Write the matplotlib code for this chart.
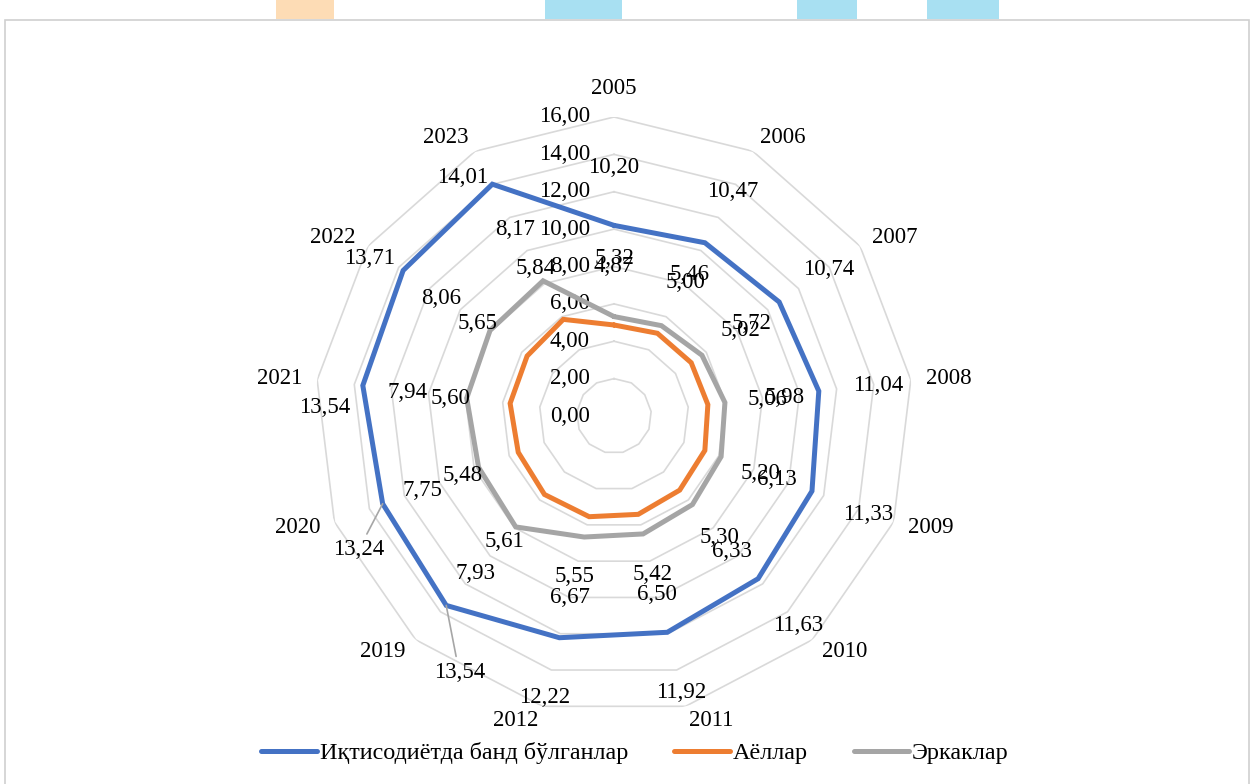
import numpy as np
import matplotlib
matplotlib.use("Agg")
import matplotlib.pyplot as plt
from matplotlib.patches import Rectangle

plt.rcParams["font.family"] = ["Liberation Serif", "DejaVu Serif"]

# data
years = ["2005", "2006", "2007", "2008", "2009", "2010", "2011", "2012",
         "2019", "2020", "2021", "2022", "2023"]
employed = [10.20, 10.47, 10.74, 11.04, 11.33, 11.63, 11.92, 12.22,
            13.54, 13.24, 13.54, 13.71, 14.01]
women = [4.87, 5.00, 5.02, 5.06, 5.20, 5.30, 5.42, 5.55,
         5.61, 5.48, 5.60, 5.65, 5.84]
men = [5.32, 5.46, 5.72, 5.98, 6.13, 6.33, 6.50, 6.67,
       7.93, 7.75, 7.94, 8.06, 8.17]
rings = [2, 4, 6, 8, 10, 12, 14, 16]
names = ["Иқтисодиётда банд бўлганлар", "Аёллар", "Эркаклар"]
colors = ["#4472C4", "#ED7D31", "#A5A5A5"]

# blue labels that were moved by hand in the original (pixels, y up)
moved = {8: (13, -67), 9: (-24, -46), 10: (-38, -22), 11: (-34, 12), 12: (-30, 7)}
leader = [8, 9]

W, H = 1253, 784
fig = plt.figure(figsize=(W / 100, H / 100), dpi=100)

# page border and bits of the page background above it
fig.add_artist(Rectangle((5 / W, -0.01), 1244 / W, (H - 20) / H + 0.01,
                         transform=fig.transFigure, fill=False,
                         edgecolor="#d0d0d0", lw=1.2))
for x0, x1, c in [(276, 334, "#FDDCB5"), (545, 622, "#A8E0F2"),
                  (797, 857, "#A8E0F2"), (927, 999, "#A8E0F2")]:
    fig.add_artist(Rectangle((x0 / W, (H - 19) / H), (x1 - x0) / W, 19 / H,
                             transform=fig.transFigure, color=c, lw=0))

cx, cy, R = 614, 416, 299
ax = fig.add_axes([(cx - R) / W, (H - cy - R) / H, 2 * R / W, 2 * R / H],
                  projection="polar")
ax.set_theta_zero_location("N")
ax.set_theta_direction(-1)
ax.set_ylim(0, 16)
ax.grid(False)
ax.spines["polar"].set_visible(False)
ax.set_xticks([])
ax.set_yticks([])
ax.patch.set_alpha(0)

n = len(years)
theta = np.arange(n) * 2 * np.pi / n
tc = np.append(theta, theta[0])

fs = 16.5

for r in rings:
    ax.plot(tc, [r] * (n + 1), color="#d9d9d9", lw=1.2, zorder=1)
for r in [0] + rings:
    ax.annotate(f"{r:.2f}".replace(".", ","), (0, r), xytext=(-24, 0),
                textcoords="offset pixels", ha="right", va="center", fontsize=fs)

for k, (t, y) in enumerate(zip(theta, years)):
    s, c = np.sin(t), np.cos(t)
    if abs(s) < 0.1:
        ha, va, d = "center", "bottom", 18
    else:
        ha, va, d = ("left" if s > 0 else "right"), "center", 15
    ax.annotate(y, (t, 16), xytext=(s * d, c * d), textcoords="offset pixels",
                ha=ha, va=va, fontsize=fs)

series = [employed, women, men]
for vals, col, name in zip(series, colors, names):
    v = np.append(vals, vals[0])
    ax.plot(tc, v, color=col, lw=3.6, label=name, zorder=3,
            solid_joinstyle="miter", solid_capstyle="round")

for si, (vals, col) in enumerate(zip(series, colors)):
    for k, (t, v) in enumerate(zip(theta, vals)):
        off = (np.sin(t) * 60, np.cos(t) * 60 - 2)
        kw = {}
        if si == 0 and k in moved:
            off = moved[k]
            if k in leader:
                kw["arrowprops"] = dict(arrowstyle="-", color="#a6a6a6", lw=1.2,
                                        shrinkA=2, shrinkB=0)
        ax.annotate(f"{v:.2f}".replace(".", ","), (t, v), xytext=off,
                    textcoords="offset pixels", ha="center", va="center",
                    fontsize=fs, zorder=4, **kw)

fig.legend(loc="center", bbox_to_anchor=(635 / W, (H - 753) / H), ncol=3,
           frameon=False, fontsize=17.4, handlelength=2.3, handletextpad=0.12,
           columnspacing=1.9)

fig.savefig("out.png", dpi=100)
